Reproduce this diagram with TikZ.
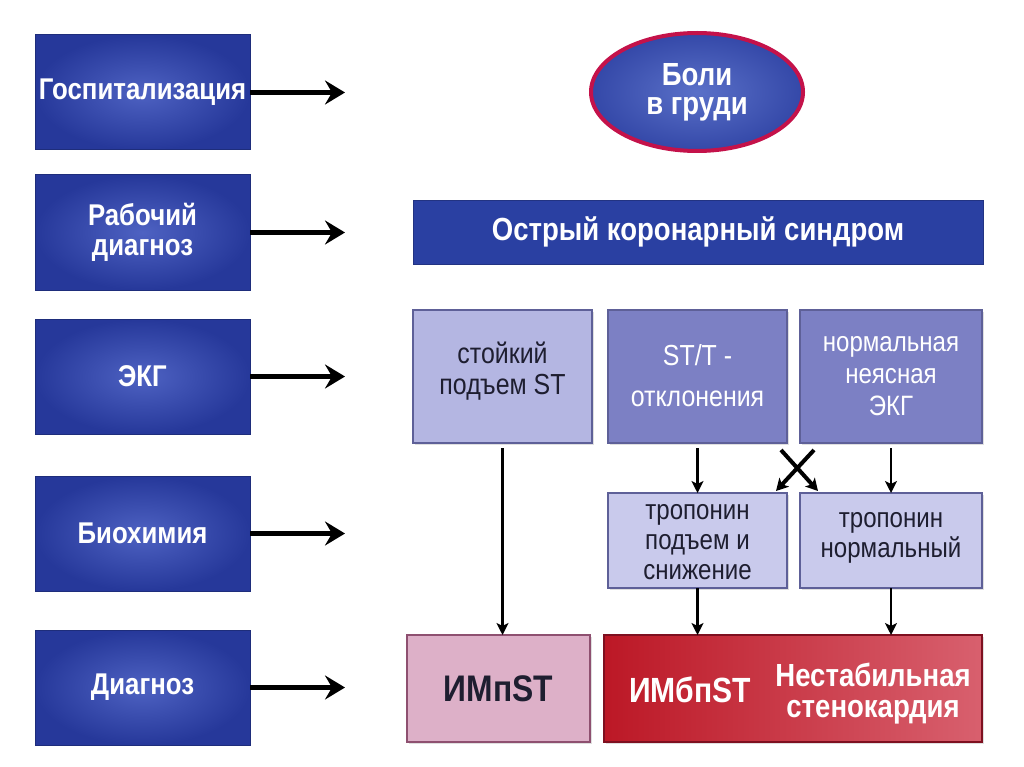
\documentclass[tikz,border=0pt]{standalone}
\usepackage{fontspec}
\setmainfont{Liberation Sans}[FakeStretch=0.86]
\usetikzlibrary{arrows.meta,shapes.geometric,shadows}
\definecolor{lblueA}{HTML}{26389A}
\definecolor{lblueB}{HTML}{4E62C2}
\definecolor{okscol}{HTML}{2A40A2}
\definecolor{ellA}{HTML}{5A70C8}
\definecolor{ellB}{HTML}{3448A8}
\definecolor{ellbord}{HTML}{C4124A}
\definecolor{lightlav}{HTML}{B4B6E2}
\definecolor{darklav}{HTML}{7C80C4}
\definecolor{troplav}{HTML}{C9CAEC}
\definecolor{lavbord}{HTML}{5E6098}
\definecolor{pinkbox}{HTML}{DDB0C8}
\definecolor{pinkbord}{HTML}{8E5070}
\definecolor{redA}{HTML}{BC1826}
\definecolor{redB}{HTML}{D8606E}
\definecolor{redbord}{HTML}{7E1020}
\definecolor{darktext}{HTML}{1E1E30}
\begin{document}
\begin{tikzpicture}[x=1pt,y=-1pt,
  lbox/.style={draw=lblueA!80!black,line width=1pt,inner color=lblueB,outer color=lblueA,
    minimum width=215pt,minimum height=115pt,outer sep=0pt,
    text=white,font=\bfseries\fontsize{30}{30}\selectfont,align=center,inner sep=1pt},
  larrow/.style={line width=5.5pt,-{Stealth[length=20pt,width=24pt,inset=7pt]}},
  sarrow/.style={line width=2.8pt,-{Stealth[length=12pt,width=12pt,inset=3pt]}},
  xarrow/.style={line width=4pt,-{Stealth[length=12pt,width=13pt,inset=3pt]}},
  ecgbox/.style={draw=lavbord,line width=1.5pt,minimum height=133pt,outer sep=0pt,
    drop shadow={opacity=0.25,shadow xshift=2pt,shadow yshift=-2pt}},
  ecgtext/.style={align=center,inner sep=0pt,font=\fontsize{29}{31}\selectfont},
  tropbox/.style={draw=lavbord,line width=1.5pt,fill=troplav,minimum width=179pt,minimum height=95pt,
    outer sep=0pt,drop shadow={opacity=0.25,shadow xshift=2pt,shadow yshift=-2pt}},
  troptext/.style={align=center,text=darktext,font=\fontsize{28}{30}\selectfont,inner sep=0pt},
]
\useasboundingbox[fill=white] (0,0) rectangle (1024,767);
% left column
\node[lbox] (l1) at (142.5,92.5) {Госпитализация};
\node[lbox] (l2) at (142.5,232.5) {Рабочий\\диагноз};
\node[lbox] (l3) at (142.5,376.5) {ЭКГ};
\node[lbox] (l4) at (142.5,533.5) {Биохимия};
\node[lbox] (l5) at (142.5,687.5) {Диагноз};
\draw[larrow] (l1.east) -- ++(95,0);
\draw[larrow] (l2.east) -- ++(95,0);
\draw[larrow] (l3.east) -- ++(95,0);
\draw[larrow] (l4.east) -- ++(95,0);
\draw[larrow] (l5.east) -- ++(95,0);
% ellipse
\node[ellipse,draw=ellbord,line width=4pt,inner color=ellA,outer color=ellB,
  minimum width=212pt,minimum height=118pt,text=white,align=center,inner sep=0pt,
  font=\bfseries\fontsize{32}{29}\selectfont] (ell) at (697,92) {Боли\\в груди};
% ACS bar
\node[fill=okscol,draw=okscol!80!black,minimum width=570pt,minimum height=64pt,outer sep=0pt,
  text=white,font=\bfseries\fontsize{32}{32}\selectfont] (oks) at (698,232) {Острый коронарный синдром};
% ECG boxes
\node[ecgbox,fill=lightlav,minimum width=179pt] (e1) at (502.5,376.5) {};
\node[ecgbox,fill=darklav,minimum width=179pt] (e2) at (697.5,376.5) {};
\node[ecgbox,fill=darklav,minimum width=182pt] (e3) at (891,376.5) {};
\node[ecgtext,text=darktext] (e1t) at (502.5,371) {стойкий\\подъем ST};
\node[ecgtext,text=white] (e2t) at (697.5,376) {ST/T -\\[10pt]отклонения};
\node[ecgtext,text=white,font=\fontsize{28}{32}\selectfont] (e3t) at (891,376) {нормальная\\неясная\\ЭКГ};
% troponin
\node[tropbox] (t1) at (697.5,540.5) {};
\node[tropbox,minimum width=182pt] (t2) at (891,540.5) {};
\node[troptext] (t1t) at (697.5,542) {тропонин\\подъем и\\снижение};
\node[troptext] (t2t) at (891,538) {тропонин\\нормальный};
% bottom
\node[draw=pinkbord,line width=1.5pt,fill=pinkbox,minimum width=183pt,minimum height=107pt,outer sep=0pt,
  text=darktext,font=\bfseries\fontsize{37}{40}\selectfont,
  drop shadow={opacity=0.25,shadow xshift=2pt,shadow yshift=-2pt}] (d1) at (498.5,688.5) {ИМпST};
\node[draw=redbord,line width=1.5pt,left color=redA,right color=redB,minimum width=378pt,minimum height=107pt,outer sep=0pt,
  drop shadow={opacity=0.25,shadow xshift=2pt,shadow yshift=-2pt}] (d2) at (793,688.5) {};
\node[text=white,font=\bfseries\fontsize{35}{38}\selectfont,inner sep=0pt] (d2a) at (690,690) {ИМбпST};
\node[text=white,font=\bfseries\fontsize{32}{31}\selectfont,align=center,inner sep=0pt] (d2b) at (873,694) {Нестабильная\\стенокардия};
% connectors
\draw[sarrow] ([yshift=-5pt]e1.south) -- (d1.north -| e1.south);
\draw[sarrow] ([yshift=-5pt]e2.south) -- (t1.north);
\draw[sarrow] ([yshift=-5pt]e3.south) -- (t2.north);
\coordinate (x1) at (781,450);
\coordinate (x2) at (814,450);
\coordinate (x3) at (776,491);
\coordinate (x4) at (818,491);
\draw[xarrow] (x1) -- (x4);
\draw[xarrow] (x2) -- (x3);
\draw[sarrow] (t1.south) -- (t1.south |- d2.north);
\draw[sarrow] (t2.south) -- (t2.south |- d2.north);
\end{tikzpicture}
\end{document}
